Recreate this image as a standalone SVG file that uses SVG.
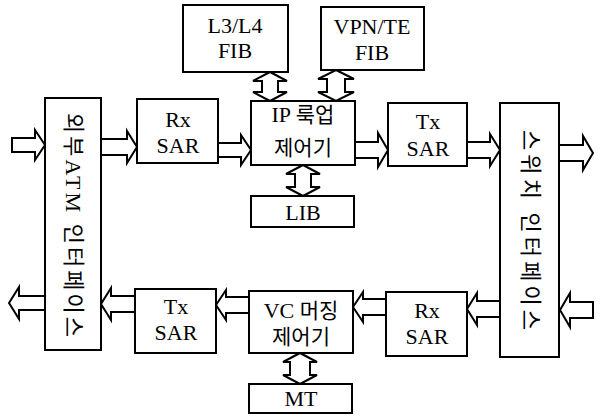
<svg xmlns="http://www.w3.org/2000/svg" width="602" height="419" viewBox="0 0 602 419">
<style>
.box{fill:#fff;stroke:#000;stroke-width:2}
.arr{fill:#fff;stroke:#000;stroke-width:2;stroke-linejoin:miter}
.t{font-family:"Liberation Serif","Noto Sans CJK KR",serif;font-size:22px;text-anchor:middle;fill:#000}
.k{font-size:21px}
.v{font-family:"Liberation Serif","Noto Sans CJK KR",serif;font-size:22px;text-anchor:middle;dominant-baseline:central;fill:#000}
</style>
<rect width="602" height="419" fill="#fff"/>
<g id="connectors">
<path class="arr" d="M12,138 L35,138 L35,130 L45,145 L35,160 L35,152 L12,152 Z"/>
<path class="arr" d="M101,139 L127,139 L127,131 L137,147 L127,163 L127,155 L101,155 Z"/>
<path class="arr" d="M218,143 L241,143 L241,135 L251,150 L241,165 L241,157 L218,157 Z"/>
<path class="arr" d="M355,142 L378,142 L378,133 L388,150 L378,167 L378,158 L355,158 Z"/>
<path class="arr" d="M467,142 L490,142 L490,134 L500,150 L490,166 L490,158 L467,158 Z"/>
<path class="arr" d="M559,145 L583,145 L583,136 L593,153 L583,170 L583,161 L559,161 Z"/>
<path class="arr" d="M593,302 L570,302 L570,293 L560,310 L570,327 L570,318 L593,318 Z"/>
<path class="arr" d="M500,301 L477,301 L477,293 L467,309 L477,325 L477,317 L500,317 Z"/>
<path class="arr" d="M386,299 L363,299 L363,292 L353,307 L363,322 L363,315 L386,315 Z"/>
<path class="arr" d="M249,297 L226,297 L226,290 L216,305 L226,320 L226,313 L249,313 Z"/>
<path class="arr" d="M135,296 L111,296 L111,288 L101,304 L111,320 L111,312 L135,312 Z"/>
<path class="arr" d="M45,296 L19,296 L19,287 L9,303 L19,319 L19,310 L45,310 Z"/>
<path class="arr" d="M270,72 L287,81 L278,81 L278,92 L287,92 L270,101 L253,92 L262,92 L262,81 L253,81 Z"/>
<path class="arr" d="M336,70 L354,79 L345,79 L345,92 L354,92 L336,101 L318,92 L327,92 L327,79 L318,79 Z"/>
<path class="arr" d="M303,165 L320,174 L311,174 L311,187 L320,187 L303,196 L286,187 L295,187 L295,174 L286,174 Z"/>
<path class="arr" d="M300,353 L317,362 L310,362 L310,375 L317,375 L300,384 L283,375 L290,375 L290,362 L283,362 Z"/>
</g>
<g id="ext-atm">
<rect class="box" x="45" y="98" width="56" height="252"/>
<text class="v" transform="rotate(90 73 225)" x="73" y="225" textLength="224" lengthAdjust="spacing">외부ATM 인터페이스</text>
</g>
<g id="rx-sar-1">
<rect class="box" x="137" y="99" width="81" height="64"/>
<text class="t" x="178" y="127">Rx</text>
<text class="t" x="178" y="153">SAR</text>
</g>
<g id="ip-lookup">
<rect class="box" x="251" y="101" width="104" height="64"/>
<text class="t" x="303" y="122">IP <tspan class="k">룩업</tspan></text>
<text class="t k" x="303" y="155">제어기</text>
</g>
<g id="tx-sar-1">
<rect class="box" x="388" y="103" width="79" height="63"/>
<text class="t" x="428" y="129">Tx</text>
<text class="t" x="428" y="156">SAR</text>
</g>
<g id="switch-if">
<rect class="box" x="500" y="103" width="59" height="254"/>
<text class="v" transform="rotate(90 530 230)" x="530" y="230" textLength="200" lengthAdjust="spacing">스위치 인터페이스</text>
</g>
<g id="l3l4-fib">
<rect class="box" x="183" y="5" width="105" height="67"/>
<text class="t" x="235" y="33">L3/L4</text>
<text class="t" x="235" y="58">FIB</text>
</g>
<g id="vpn-fib">
<rect class="box" x="321" y="7" width="103" height="63"/>
<text class="t" x="372" y="34">VPN/TE</text>
<text class="t" x="372" y="60">FIB</text>
</g>
<g id="lib">
<rect class="box" x="251" y="196" width="103" height="31"/>
<text class="t" x="303" y="220">LIB</text>
</g>
<g id="tx-sar-2">
<rect class="box" x="135" y="289" width="81" height="64"/>
<text class="t" x="176" y="314">Tx</text>
<text class="t" x="176" y="340">SAR</text>
</g>
<g id="vc-merge">
<rect class="box" x="249" y="291" width="104" height="62"/>
<text class="t" x="301" y="318">VC <tspan class="k">머징</tspan></text>
<text class="t k" x="301" y="344">제어기</text>
</g>
<g id="mt">
<rect class="box" x="249" y="384" width="103" height="29"/>
<text class="t" x="301" y="406">MT</text>
</g>
<g id="rx-sar-2">
<rect class="box" x="386" y="292" width="81" height="64"/>
<text class="t" x="427" y="318">Rx</text>
<text class="t" x="427" y="344">SAR</text>
</g>
</svg>
